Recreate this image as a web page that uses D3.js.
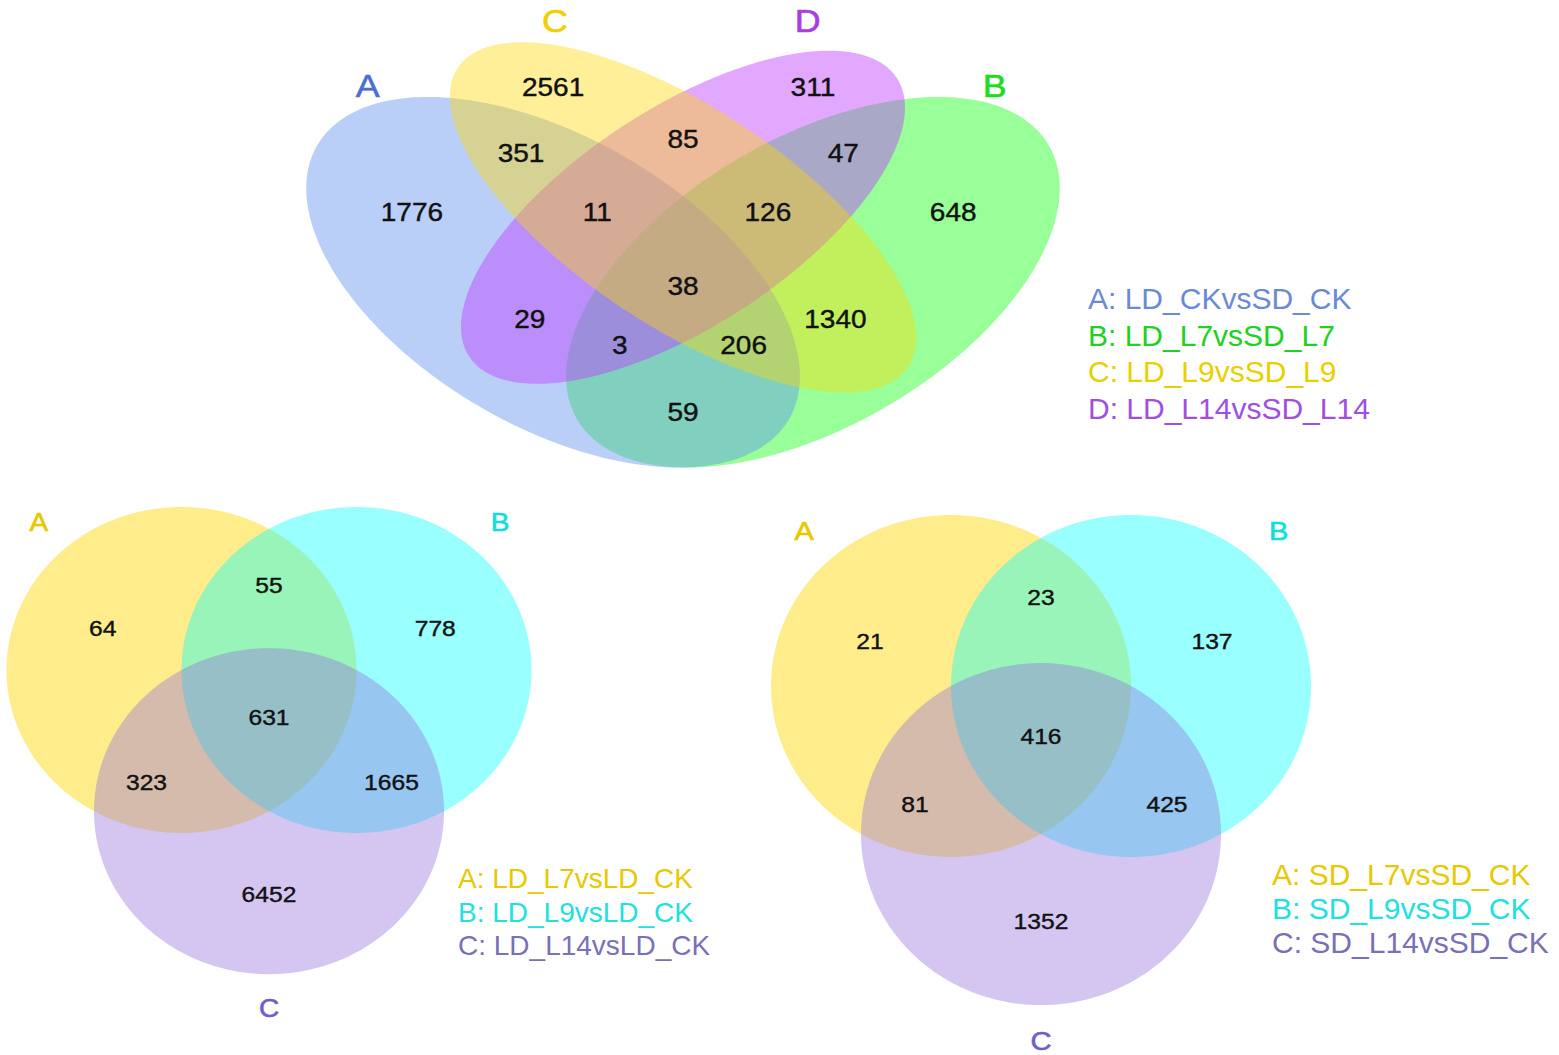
<!DOCTYPE html>
<html>
<head>
<meta charset="utf-8">
<script src="https://d3js.org/d3.v7.min.js"></script>
<style>
  body { margin: 0; background: #fff; }
  text { font-family: "Liberation Sans", Arial, Helvetica, sans-serif; }
</style>
</head>
<body>
<div id="chart"></div>
<script>
// ---- data ----
var quadSets = ['A', 'B', 'C', 'D'];
var quadNames = ['LD_CKvsSD_CK', 'LD_L7vsSD_L7', 'LD_L9vsSD_L9', 'LD_L14vsSD_L14'];
var quadRegions = ['A', 'B', 'C', 'D', 'AB', 'AC', 'AD', 'BC', 'BD', 'CD', 'ABC', 'ABD', 'ACD', 'BCD', 'ABCD'];
var quadCounts = [1776, 648, 2561, 311, 59, 351, 29, 1340, 47, 85, 206, 3, 11, 126, 38];

var triSets = ['A', 'B', 'C'];
var triRegions = ['A', 'B', 'C', 'AB', 'AC', 'BC', 'ABC'];
var ldNames = ['LD_L7vsLD_CK', 'LD_L9vsLD_CK', 'LD_L14vsLD_CK'];
var ldCounts = [64, 778, 6452, 55, 323, 1665, 631];
var sdNames = ['SD_L7vsSD_CK', 'SD_L9vsSD_CK', 'SD_L14vsSD_CK'];
var sdCounts = [21, 137, 1352, 23, 81, 425, 416];

// ---- venn layout, unit square with y pointing up ----
var quadShapes = {
    A: {cx: 0.35, cy: 0.47, a: 0.35, b: 0.20, rot: 135},
    B: {cx: 0.65, cy: 0.47, a: 0.35, b: 0.20, rot: 45},
    C: {cx: 0.50, cy: 0.57, a: 0.35, b: 0.15, rot: 135},
    D: {cx: 0.50, cy: 0.57, a: 0.33, b: 0.15, rot: 45}
};
var quadLabelPos = {
    C: [0.35, 0.77], CD: [0.5, 0.69], D: [0.65, 0.77],
    AC: [0.313, 0.669], ACD: [0.401, 0.578], BCD: [0.598, 0.578], BD: [0.685, 0.669],
    A: [0.187, 0.578], ABCD: [0.5, 0.465], B: [0.812, 0.578],
    AD: [0.323, 0.414], BC: [0.676, 0.414],
    ABD: [0.427, 0.374], ABC: [0.570, 0.374], AB: [0.5, 0.27]
};
var quadCatPos = {A: [0.136, 0.773], B: [0.860, 0.773], C: [0.352, 0.873], D: [0.644, 0.873]};

var triShapes = {
    A: {cx: 0.4, cy: 0.6, a: 0.2, b: 0.2, rot: 0},
    B: {cx: 0.6, cy: 0.6, a: 0.2, b: 0.2, rot: 0},
    C: {cx: 0.5, cy: 0.4268, a: 0.2, b: 0.2, rot: 0}
};
var triLabelPos = {
    A: [0.31, 0.652], AB: [0.5, 0.704], B: [0.69, 0.652], ABC: [0.5, 0.542],
    AC: [0.36, 0.462], BC: [0.64, 0.462], C: [0.5, 0.325]
};
var triCatPos = {A: [0.237, 0.782], B: [0.764, 0.782], C: [0.5, 0.185]};

// ---- styles ----
var quadFill = {A: '#6495ed', B: '#00ff00', C: '#ffd700', D: '#bf3eff'};
var quadOpacity = {A: 0.45, B: 0.4, C: 0.4, D: 0.45};
var quadDrawOrder = ['B', 'A', 'D', 'C'];
var quadCatColor = {A: '#4b6fd0', B: '#1edc1e', C: '#f0d000', D: '#aa3ce6'};
var quadLegendColor = {A: '#6a8ad8', B: '#22d022', C: '#e8d000', D: '#a050e0'};

var triFill = {A: '#ffd700', B: '#00ffff', C: '#9370db'};
var triOpacity = {A: 0.45, B: 0.4, C: 0.4};
var triCatColor = {A: '#e6c800', B: '#10dede', C: '#6d5fc8'};
var triLegendColor = {A: '#e8c800', B: '#20e0e0', C: '#7a70b8'};

var width = 1559, height = 1055;

var svg = d3.select('#chart').append('svg')
    .attr('width', width)
    .attr('height', height);

// points along a rotated ellipse in unit coordinates
function ellipsePoints(s) {
    var th = s.rot * Math.PI / 180;
    return d3.range(0, 360, 1).map(function(deg) {
        var t = deg * Math.PI / 180;
        var ex = s.a * Math.cos(t), ey = s.b * Math.sin(t);
        return [s.cx + ex * Math.cos(th) - ey * Math.sin(th),
                s.cy + ex * Math.sin(th) + ey * Math.cos(th)];
    });
}

// draw one venn panel
function drawVenn(opts) {
    var x = d3.scaleLinear().domain([0, 1]).range(opts.xRange);
    var y = d3.scaleLinear().domain([0, 1]).range(opts.yRange);
    var g = svg.append('g');

    var line = d3.line()
        .x(function(d) { return x(d[0]); })
        .y(function(d) { return y(d[1]); })
        .curve(d3.curveLinearClosed);

    g.selectAll('path.set')
        .data(opts.order)
        .enter().append('path')
        .attr('class', 'set')
        .attr('d', function(k) { return line(ellipsePoints(opts.shapes[k])); })
        .attr('fill', function(k) { return opts.fill[k]; })
        .attr('fill-opacity', function(k) { return opts.opacity[k]; })
        .attr('stroke', 'none');

    // region counts
    g.selectAll('text.count')
        .data(opts.regions.map(function(r, i) { return {key: r, value: opts.counts[i]}; }))
        .enter().append('text')
        .attr('class', 'count')
        .attr('transform', function(d) {
            var p = opts.labelPos[d.key];
            return 'translate(' + x(p[0]) + ',' + y(p[1]) + ') scale(' + opts.stretch + ',1)';
        })
        .attr('dy', '0.36em')
        .attr('text-anchor', 'middle')
        .style('font-size', opts.countSize + 'px')
        .style('fill', '#111')
        .style('stroke', '#111')
        .style('stroke-width', 0.4)
        .text(function(d) { return d.value; });

    // set letters
    g.selectAll('text.cat')
        .data(opts.sets)
        .enter().append('text')
        .attr('class', 'cat')
        .attr('transform', function(k) {
            var p = opts.catPos[k];
            return 'translate(' + x(p[0]) + ',' + y(p[1]) + ') scale(' + opts.stretch + ',1)';
        })
        .attr('dy', '0.36em')
        .attr('text-anchor', 'middle')
        .style('font-size', opts.catSize + 'px')
        .style('fill', function(k) { return opts.catColor[k]; })
        .style('stroke', function(k) { return opts.catColor[k]; })
        .style('stroke-width', 0.6)
        .text(function(k) { return k; });

    // legend
    g.selectAll('text.legend')
        .data(opts.sets)
        .enter().append('text')
        .attr('class', 'legend')
        .attr('x', opts.legend.x)
        .attr('y', function(k, i) { return opts.legend.y + i * opts.legend.step; })
        .attr('dy', '0.36em')
        .style('font-size', opts.legend.size + 'px')
        .style('fill', function(k) { return opts.legendColor[k]; })
        .text(function(k, i) { return k + ': ' + opts.names[i]; });
}

// top: four sets
drawVenn({
    xRange: [250, 1116], yRange: [587.75, -62.25],
    shapes: quadShapes, order: quadDrawOrder, sets: quadSets, names: quadNames,
    regions: quadRegions, counts: quadCounts, labelPos: quadLabelPos, catPos: quadCatPos,
    fill: quadFill, opacity: quadOpacity, catColor: quadCatColor, legendColor: quadLegendColor,
    countSize: 25, catSize: 32, stretch: 1.12,
    legend: {x: 1088, y: 298, step: 36.7, size: 30}
});

// bottom left: LD
drawVenn({
    xRange: [-168.5, 706.5], yRange: [1159, 344],
    shapes: triShapes, order: triSets, sets: triSets, names: ldNames,
    regions: triRegions, counts: ldCounts, labelPos: triLabelPos, catPos: triCatPos,
    fill: triFill, opacity: triOpacity, catColor: triCatColor, legendColor: triLegendColor,
    countSize: 22, catSize: 25, stretch: 1.12,
    legend: {x: 458, y: 878, step: 33.5, size: 28}
});

// bottom right: SD
drawVenn({
    xRange: [591, 1491], yRange: [1199, 344],
    shapes: triShapes, order: triSets, sets: triSets, names: sdNames,
    regions: triRegions, counts: sdCounts, labelPos: triLabelPos, catPos: triCatPos,
    fill: triFill, opacity: triOpacity, catColor: triCatColor, legendColor: triLegendColor,
    countSize: 22, catSize: 26, stretch: 1.12,
    legend: {x: 1272, y: 874, step: 34, size: 30}
});
</script>
</body>
</html>
